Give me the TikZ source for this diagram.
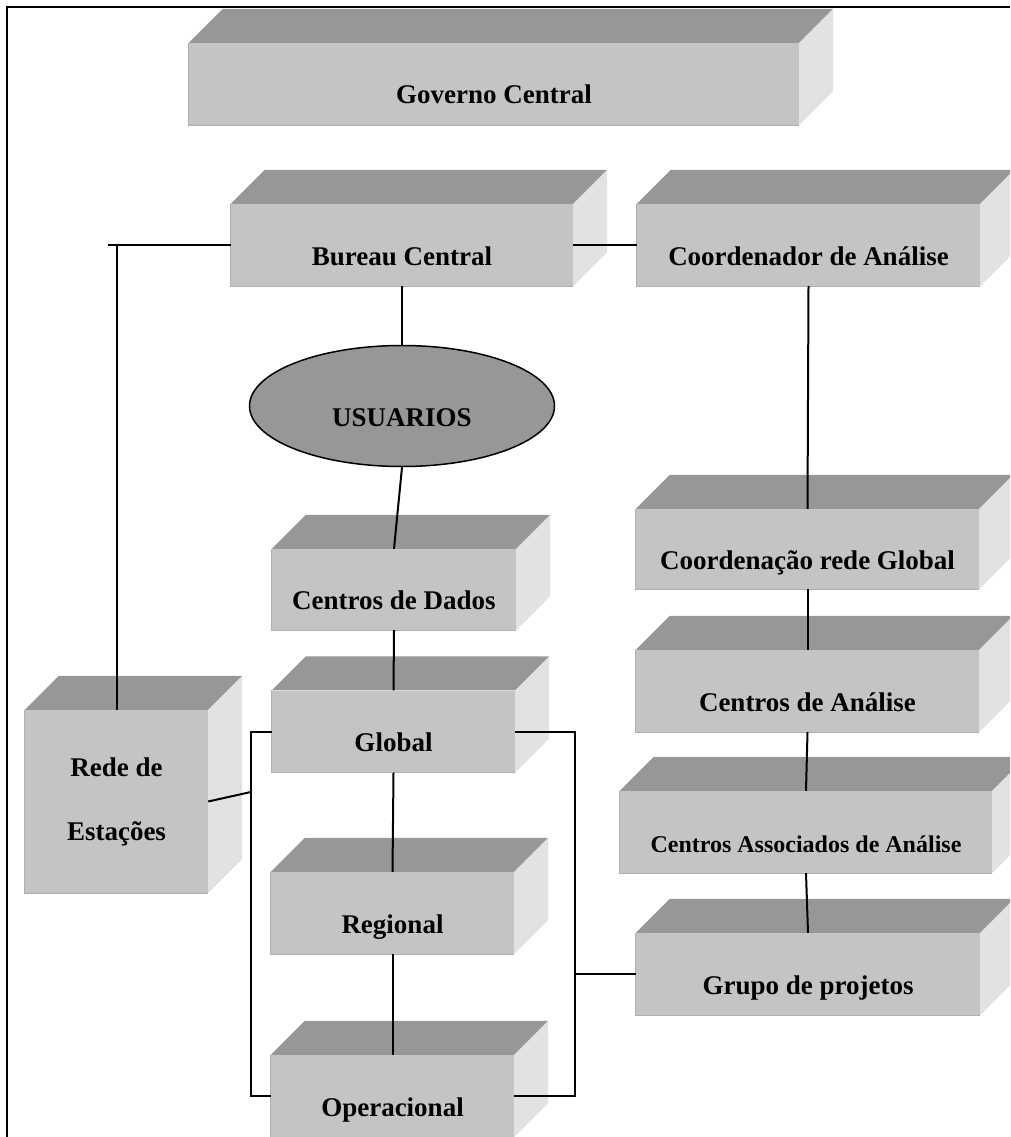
\documentclass[tikz,border=0pt]{standalone}
\usepackage{fontspec}
\setmainfont{Liberation Serif}
\usepackage{tikz}
\usepackage{xcolor}
\usetikzlibrary{shapes.geometric}

\definecolor{cinzatopo}{RGB}{151,151,151}
\definecolor{cinzafrente}{RGB}{196,196,196}
\definecolor{cinzalado}{RGB}{226,226,226}
\definecolor{cinzaborda}{RGB}{176,176,176}

\begin{document}
\begin{tikzpicture}[x=1pt,y=-1pt]
\tikzstyle{every node}+=[inner sep=0pt]
\tikzstyle{caixa}=[rectangle, fill=cinzafrente, font=\bfseries\fontsize{27}{32}\selectfont, text height=40pt, text depth=0pt, minimum height=82pt]
\tikzstyle{topo}=[fill=cinzatopo]
\tikzstyle{lado}=[fill=cinzalado]
\tikzstyle{borda}=[draw=cinzaborda, line width=1.2pt]
\tikzstyle{linha}=[black, line width=2pt]
\useasboundingbox (0,0) rectangle (1010,1137);
\clip (0,0) rectangle (1010,1137);
\node [caixa, minimum width=610pt] (governo) at (494,84) {Governo Central};
\node [caixa, minimum width=342pt] (bureau) at (402,245) {Bureau Central};
\node [caixa, minimum width=343pt] (coord) at (808.5,245) {Coordenador de Análise};
\node [ellipse, draw=black, line width=1.5pt, fill=cinzatopo, minimum width=305pt, minimum height=121pt, font=\bfseries\fontsize{27}{32}\selectfont, text height=40pt, text depth=0pt] (usuarios) at (402,406) {USUARIOS};
\node [caixa, minimum width=244pt, minimum height=81pt] (dados) at (394,589.5) {Centros de Dados};
\node [caixa, minimum width=243pt] (global) at (393.5,731.5) {Global};
\node [caixa, minimum width=243pt] (regional) at (392.5,913) {Regional};
\node [caixa, minimum width=243pt] (operacional) at (392.5,1096) {Operacional};
\node [caixa, minimum width=183pt, minimum height=183pt, text height={}, text depth={}, align=center] (rede) at (116.5,801.5) {Rede de\\[32pt]Estações};
\node [caixa, minimum width=343pt, minimum height=80pt] (coordrede) at (807.5,549) {Coordenação rede Global};
\node [caixa, minimum width=343pt] (analise) at (807.5,691) {Centros de Análise};
\node [caixa, minimum width=372pt, font=\bfseries\fontsize{24}{29}\selectfont] (assoc) at (806,832) {Centros Associados de Análise};
\node [caixa, minimum width=344pt] (grupo) at (808,974) {Grupo de projetos};
\foreach \n in {governo,bureau,coord,dados,global,regional,operacional,rede,coordrede,analise,assoc,grupo} {
  \fill [topo] (\n.north west) -- ++(34,-34) -- ([shift={(34,-34)}]\n.north east) -- (\n.north east) -- cycle;
  \fill [lado] (\n.north east) -- ++(34,-34) -- ([shift={(34,-34)}]\n.south east) -- (\n.south east) -- cycle;
  \draw [borda] (\n.north west) -- (\n.south west) -- (\n.south east);
}
\coordinate (be) at ([xshift=-21pt]global.west);
\coordinate (bd) at ([xshift=60pt]global.east);
\coordinate (jrede) at (be |- 0,792);
\coordinate (tr) at (rede.north |- bureau.west);
\draw [linha] (bureau.south) -- (usuarios.north);
\draw [linha] (usuarios.south) -- (dados.north);
\draw [linha] (dados.south) -- (global.north);
\draw [linha] (global.south) -- (regional.north);
\draw [linha] (regional.south) -- (operacional.north);
\draw [linha] (global.west) -- (be) |- (operacional.west);
\draw [linha] (global.east) -- (bd) |- (operacional.east);
\draw [linha] (grupo.west) -- (grupo.west -| bd);
\draw [linha] (rede.east) -- (jrede);
\draw [linha] (rede.north) -- (tr);
\draw [linha] ([xshift=-9pt]tr) -- (bureau.west);
\draw [linha] (bureau.east) -- (coord.west);
\draw [linha] (coord.south) -- (coordrede.north);
\draw [linha] (coordrede.south) -- (analise.north);
\draw [linha] (analise.south) -- (assoc.north);
\draw [linha] (assoc.south) -- (grupo.north);
\draw [black, line width=2.5pt] (7,1137) -- (7,7) -- (1010,7);
\end{tikzpicture}
\end{document}
